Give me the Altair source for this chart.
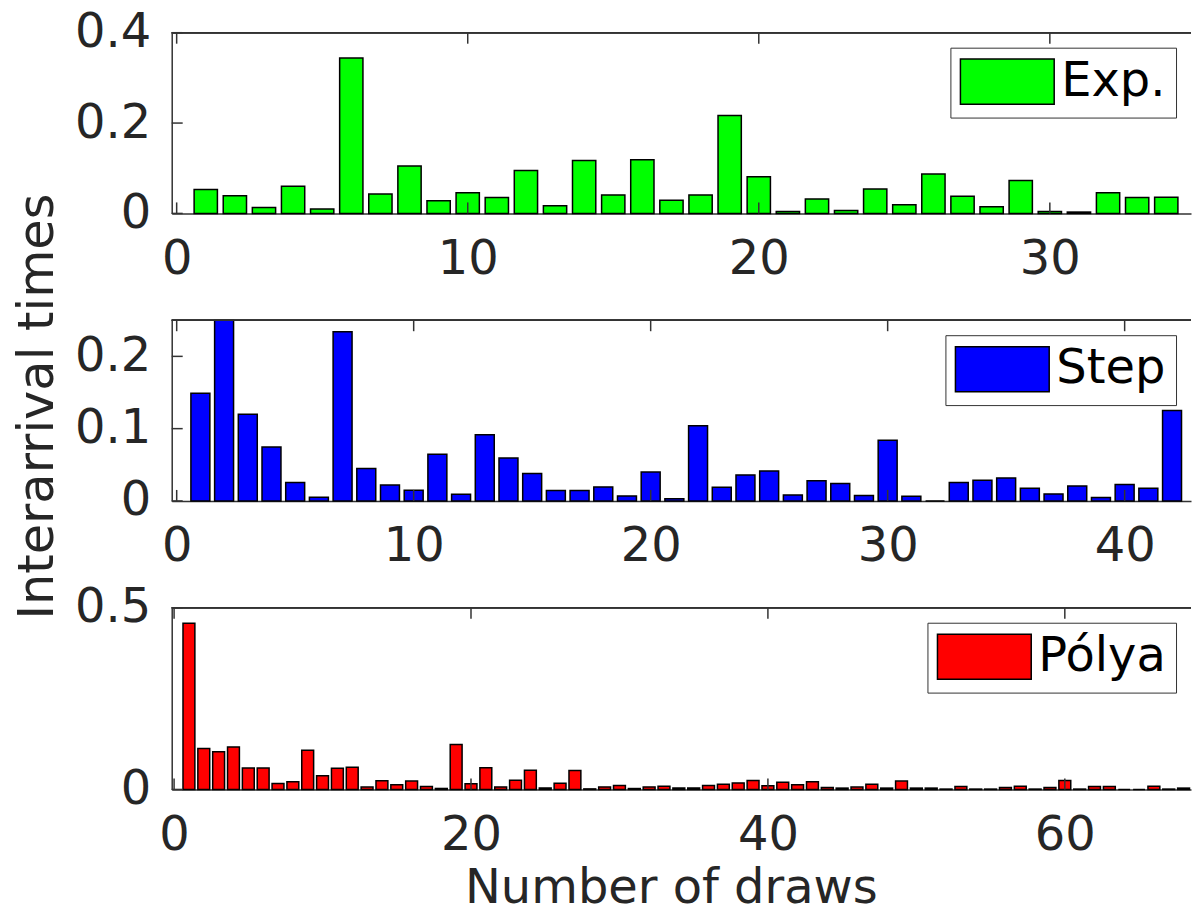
import altair as alt
import pandas as pd

# ---------------- data ----------------
exp_vals = [0.053, 0.039, 0.013, 0.060, 0.0096, 0.344, 0.043, 0.105, 0.028, 0.046,
            0.035, 0.095, 0.017, 0.117, 0.041, 0.119, 0.029, 0.041, 0.217, 0.081,
            0.0044, 0.032, 0.0066, 0.054, 0.019, 0.087, 0.038, 0.015, 0.073, 0.0044,
            0.003, 0.046, 0.035, 0.036]
step_vals = [0.149, 0.25, 0.120, 0.0747, 0.0254, 0.0051, 0.234, 0.045, 0.022, 0.0147,
             0.0645, 0.0092, 0.0917, 0.0594, 0.0378, 0.0143, 0.0143, 0.0194, 0.0069, 0.040,
             0.003, 0.104, 0.0189, 0.036, 0.0415, 0.0083, 0.028, 0.024, 0.0074, 0.084,
             0.0065, 0.0, 0.0254, 0.0286, 0.0318, 0.0175, 0.0097, 0.0207, 0.0046, 0.0226,
             0.0175, 0.125]
polya_vals = [0.457, 0.113, 0.104, 0.117, 0.059, 0.059, 0.0165, 0.021, 0.108, 0.038,
              0.0585, 0.061, 0.0064, 0.0238, 0.0128, 0.0229, 0.0082, 0.0027, 0.124, 0.0160,
              0.060, 0.007, 0.025, 0.053, 0.004, 0.017, 0.052, 0.0015, 0.007, 0.011,
              0.0025, 0.007, 0.009, 0.004, 0.004, 0.011, 0.0146, 0.018, 0.0247, 0.010,
              0.020, 0.013, 0.021, 0.0055, 0.0037, 0.0064, 0.0146, 0.0037, 0.0229, 0.0037,
              0.0037, 0.001, 0.008, 0.001, 0.001, 0.0055, 0.009, 0.001, 0.0055, 0.0247,
              0.001, 0.008, 0.008, 0.0, 0.0, 0.009, 0.001, 0.0037]

series_names = ["Exp.", "Step", "Pólya"]
series_colors = ["#00ff00", "#0000ff", "#ff0000"]

exp_xticks = [0, 10, 20, 30]
step_xticks = [0, 10, 20, 30, 40]
polya_xticks = [0, 20, 40, 60]
exp_yticks = [0, 0.2, 0.4]
step_yticks = [0, 0.1, 0.2]
polya_yticks = [0, 0.5]

exp_xdomain = [-0.17, 34.85]
step_xdomain = [-0.21, 42.8]
polya_xdomain = [-0.16, 68.5]
exp_ydomain = [0, 0.4]
step_ydomain = [0, 0.25]
polya_ydomain = [0, 0.5]

y_title = "Interarrival times"
x_title = "Number of draws"

# ---------------- layout constants ----------------
W = 1021
TICK = 11
AX = "#333333"
FONT = "DejaVu Sans"


def panel(vals, name, color, xticks, yticks, xdom, ydom, h, xtitle=None, ytitle=None):
    df = pd.DataFrame({"n": list(range(1, len(vals) + 1)), "v": vals, "series": name})
    xs = alt.Scale(domain=xdom, nice=False, zero=False)
    ys = alt.Scale(domain=ydom, nice=False, zero=False)

    xaxis_kw = dict(values=xticks, format="d", labelPadding=22, labelFlush=False,
                    labelOverlap=False)
    if xtitle:
        xaxis_kw.update(title=xtitle, titleX=500, titleY=113, titleAlign="center",
                        titleBaseline="alphabetic")
    else:
        xaxis_kw.update(title=None)
    yaxis_kw = dict(values=yticks, format="~g", labelPadding=21, labelFlush=False,
                    labelOverlap=False)
    if ytitle:
        yaxis_kw.update(title=ytitle, titleX=-119, titleY=86, titleAngle=270,
                        titleAlign="center", titleBaseline="alphabetic",
                        titleFontSize=49.5)
    else:
        yaxis_kw.update(title=None)
    xaxis = alt.Axis(**xaxis_kw)
    yaxis = alt.Axis(**yaxis_kw)

    bars = alt.Chart(df).transform_calculate(
        x0="datum.n - 0.4", x1="datum.n + 0.4"
    ).mark_rect(stroke="black", strokeWidth=1.5).encode(
        x=alt.X("x0:Q", scale=xs, axis=xaxis),
        x2="x1:Q",
        y=alt.Y("v:Q", scale=ys, axis=yaxis),
        y2=alt.datum(0),
        color=alt.Color(
            "series:N",
            scale=alt.Scale(domain=[name], range=[color]),
            legend=alt.Legend(
                title=None, orient="top-right", offset=15, padding=10,
                strokeColor=AX, fillColor="white",
                symbolType="M-2.02,-0.97H2.02V0.97H-2.02Z", symbolSize=2162,
                symbolOffset=23, symbolStrokeColor="black", symbolStrokeWidth=1.5,
                symbolOpacity=1,
                labelFontSize=48, labelFont=FONT, labelColor="black",
                labelOffset=30, labelLimit=400,
            ),
        ),
    )

    xt = pd.DataFrame({"x0": xticks})
    yt = pd.DataFrame({"v": yticks})
    xb = alt.Chart(xt).mark_rule(color=AX, strokeWidth=1.5).encode(
        x=alt.X("x0:Q", scale=xs, axis=xaxis), y=alt.value(h), y2=alt.value(h - TICK))
    xtp = alt.Chart(xt).mark_rule(color=AX, strokeWidth=1.5).encode(
        x=alt.X("x0:Q", scale=xs, axis=xaxis), y=alt.value(0), y2=alt.value(TICK))
    yl = alt.Chart(yt).mark_rule(color=AX, strokeWidth=1.5).encode(
        y=alt.Y("v:Q", scale=ys, axis=yaxis), x=alt.value(0), x2=alt.value(TICK))
    top = alt.Chart(xt).mark_rule(color=AX, strokeWidth=1.5).encode(
        x=alt.value(0), x2=alt.value(W), y=alt.value(0))

    return alt.layer(bars, xb, xtp, yl, top).properties(width=W, height=h)


p1 = panel(exp_vals, series_names[0], series_colors[0], exp_xticks, exp_yticks,
           exp_xdomain, exp_ydomain, 181)
p2 = panel(step_vals, series_names[1], series_colors[1], step_xticks, step_yticks,
           step_xdomain, step_ydomain, 181, ytitle=y_title)
p3 = panel(polya_vals, series_names[2], series_colors[2], polya_xticks, polya_yticks,
           polya_xdomain, polya_ydomain, 182, xtitle=x_title)

chart = alt.vconcat(p1, p2, p3, spacing=107, bounds="flush").resolve_scale(
    color="independent"
).properties(
    padding={"left": 12, "top": 8, "right": 0, "bottom": 0},
    background="white",
).configure_view(stroke=None).configure_axis(
    labelFont=FONT, labelFontSize=48, labelColor="#262626",
    titleFont=FONT, titleFontSize=48, titleColor="#262626", titleFontWeight="normal",
    domainColor=AX, domainWidth=1.5, ticks=False, tickSize=0, grid=False,
)

chart.save("out.html", embed_options={"renderer": "svg", "actions": False})
